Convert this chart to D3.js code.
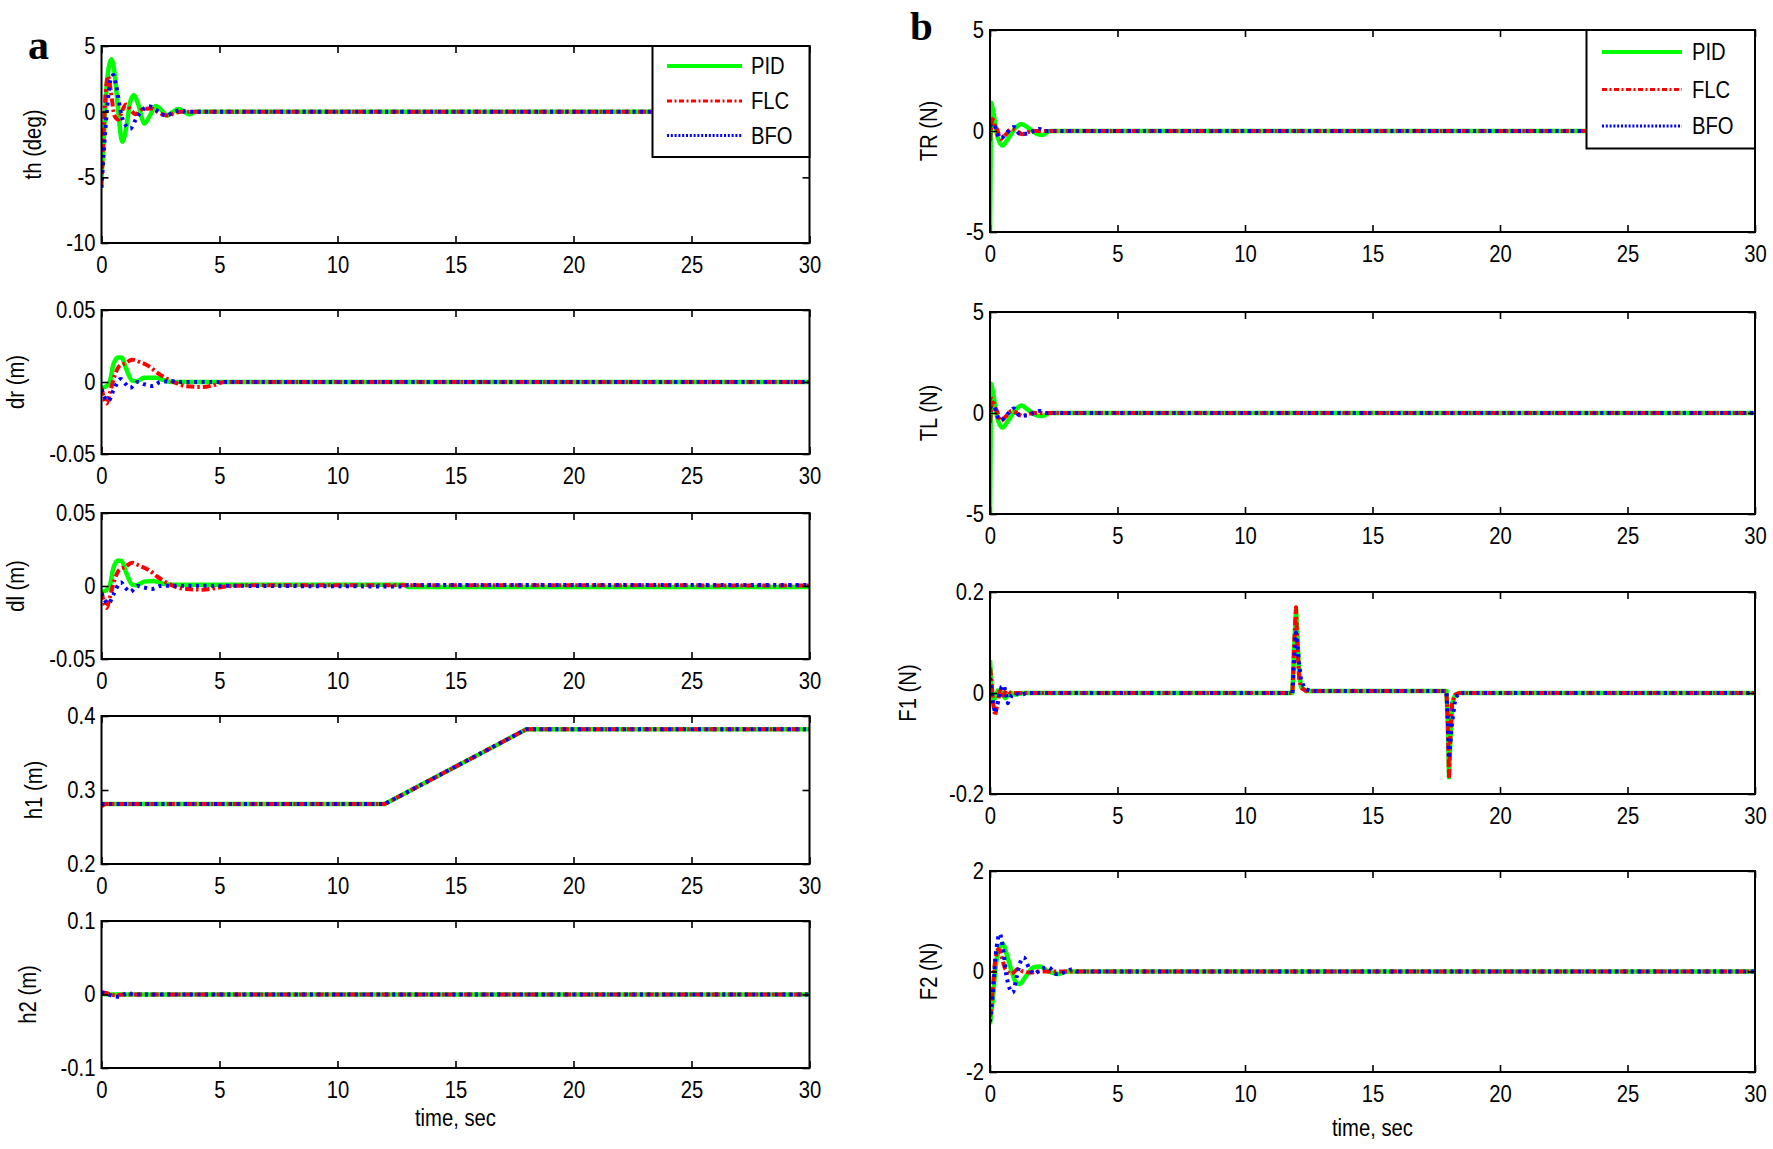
<!DOCTYPE html>
<html><head><meta charset="utf-8">
<script src="https://cdn.jsdelivr.net/npm/d3@7"></script>
<style>
html,body{margin:0;padding:0;background:#fff;}
svg{display:block;}
</style></head><body>
<svg id="chart" width="1773" height="1149"></svg>
<script>
// ---------------- DATA ----------------
const seriesNames = ['PID', 'FLC', 'BFO'];
const timeTicks = [0, 5, 10, 15, 20, 25, 30];
const timeTickLabels = ['0', '5', '10', '15', '20', '25', '30'];

const thTicks = [-10, -5, 0, 5];          const thTickLabels = ['-10', '-5', '0', '5'];
const dTicks = [-0.05, 0, 0.05];          const dTickLabels = ['-0.05', '0', '0.05'];
const h1Ticks = [0.2, 0.3, 0.4];          const h1TickLabels = ['0.2', '0.3', '0.4'];
const h2Ticks = [-0.1, 0, 0.1];           const h2TickLabels = ['-0.1', '0', '0.1'];
const tqTicks = [-5, 0, 5];               const tqTickLabels = ['-5', '0', '5'];
const f1Ticks = [-0.2, 0, 0.2];           const f1TickLabels = ['-0.2', '0', '0.2'];
const f2Ticks = [-2, 0, 2];               const f2TickLabels = ['-2', '0', '2'];

// th (deg)
const thPID = [[0,-5],[0.1,-2],[0.2,1.5],[0.3,3.3],[0.42,4.0],[0.55,3.0],[0.7,0.2],[0.88,-2.3],[1.05,-1.2],[1.2,0.6],[1.37,1.27],[1.55,0.6],[1.82,-0.9],[2.05,-0.3],[2.3,0.43],[2.55,0.1],[2.77,-0.3],[3.0,-0.05],[3.26,0.2],[3.5,0],[3.73,-0.2],[4.0,0],[30,0]];
const thFLC = [[0,-5.6],[0.08,-2],[0.18,1.5],[0.28,2.7],[0.4,1.5],[0.55,-0.3],[0.71,-0.6],[0.88,0.1],[1.04,0.55],[1.25,0.1],[1.45,-0.2],[1.75,0.2],[2.1,0.25],[2.45,-0.1],[2.8,-0.3],[3.1,-0.1],[3.4,0],[30,0]];
const thBFO = [[0,-5.8],[0.1,-3],[0.25,0.5],[0.38,2.4],[0.5,2.8],[0.62,2.0],[0.85,-0.3],[1.05,-1.1],[1.22,-1.3],[1.45,-0.6],[1.75,0.15],[2.05,0.4],[2.3,0.15],[2.55,-0.2],[2.75,-0.3],[3.05,-0.05],[3.3,0.1],[3.6,0],[30,0]];

// dr (m)
const drPID = [[0,-0.004],[0.2,-0.003],[0.35,0.0],[0.5,0.012],[0.7,0.017],[0.85,0.017],[1.05,0.009],[1.3,0.001],[1.5,0.0005],[1.8,0.003],[2.3,0.003],[2.6,0.0015],[3.0,0],[30,0]];
const drFLC = [[0,-0.004],[0.12,-0.012],[0.22,-0.015],[0.35,-0.008],[0.55,0.004],[0.75,0.011],[1.0,0.013],[1.3,0.0155],[1.6,0.014],[2.0,0.011],[2.4,0.006],[2.8,0.002],[3.2,-0.001],[3.6,-0.003],[4.3,-0.0035],[4.8,-0.002],[5.2,0],[30,0]];
const drBFO = [[0,-0.005],[0.15,-0.011],[0.3,-0.013],[0.5,-0.006],[0.82,0.002],[1.0,-0.001],[1.22,-0.004],[1.53,0],[1.8,-0.0015],[2.15,-0.0028],[2.5,0],[3.0,0.0005],[3.4,0],[30,0]];

// dl (m)
const dlPID = [[0,-0.004],[0.2,-0.003],[0.35,0.0],[0.5,0.012],[0.7,0.0175],[0.85,0.017],[1.05,0.009],[1.3,0.001],[1.5,0.0005],[1.8,0.003],[2.2,0.0035],[2.6,0.0015],[3.0,0.0008],[12.8,0.0008],[13.0,-0.0006],[30,-0.0006]];
const dlFLC = [[0,-0.004],[0.12,-0.012],[0.22,-0.015],[0.35,-0.008],[0.55,0.004],[0.75,0.011],[1.0,0.013],[1.3,0.016],[1.6,0.014],[2.0,0.011],[2.4,0.006],[2.8,0.002],[3.2,-0.001],[3.6,-0.002],[4.3,-0.0025],[4.8,-0.0015],[5.5,0],[6.5,0.0005],[30,0.0004]];
const dlBFO = [[0,-0.005],[0.15,-0.01],[0.3,-0.012],[0.5,-0.006],[0.82,0.0025],[1.0,-0.001],[1.22,-0.004],[1.53,0],[1.8,-0.001],[2.15,-0.002],[2.5,0],[3.0,0.0002],[12.8,-0.0003],[13.0,0.0007],[30,0.0007]];

// h1 (m)
const h1PID = [[0,0.281],[12.0,0.281],[18.0,0.382],[30,0.382]];
const h1FLC = [[0,0.278],[0.15,0.281],[12.0,0.281],[18.0,0.382],[30,0.382]];
const h1BFO = [[0,0.281],[12.0,0.281],[18.0,0.382],[30,0.382]];

// h2 (m)
const h2PID = [[0,0.001],[0.3,0],[30,0]];
const h2FLC = [[0,0.003],[0.2,0.002],[0.4,0],[0.6,-0.001],[0.9,0],[30,0]];
const h2BFO = [[0,0.003],[0.2,0.001],[0.5,-0.002],[0.72,-0.003],[0.95,0],[1.15,0.0023],[1.35,0],[30,0]];

// TR (N)
const trPID = [[0,-5],[0.02,-2],[0.04,1.4],[0.12,1.0],[0.3,-0.3],[0.49,-0.72],[0.7,-0.4],[1.0,0.15],[1.23,0.35],[1.5,0.15],[1.8,-0.12],[2.05,-0.2],[2.35,0],[30,0]];
const trFLC = [[0,-0.5],[0.05,0.2],[0.09,0.6],[0.18,0.3],[0.27,0.1],[0.42,-0.4],[0.6,-0.2],[0.85,0.1],[1.05,0.0],[1.27,-0.16],[1.5,-0.05],[1.8,0],[30,0]];
const trBFO = [[0,0.2],[0.08,0.35],[0.16,0.3],[0.38,-0.35],[0.5,-0.3],[0.65,-0.1],[0.94,0.2],[1.16,-0.13],[1.45,-0.13],[1.7,0],[1.94,0.1],[2.2,0],[30,0]];

// TL (N)
const tlPID = [[0,-5],[0.02,-2],[0.04,1.45],[0.12,1.0],[0.3,-0.3],[0.49,-0.72],[0.7,-0.4],[1.0,0.15],[1.23,0.37],[1.5,0.15],[1.8,-0.1],[2.05,-0.15],[2.35,0],[30,0]];
const tlFLC = [[0,-0.5],[0.05,0.2],[0.09,0.7],[0.18,0.3],[0.27,0.1],[0.42,-0.4],[0.6,-0.2],[0.85,0.1],[1.05,0.0],[1.27,-0.16],[1.5,-0.05],[1.8,0],[30,0]];
const tlBFO = [[0,0.2],[0.08,0.35],[0.16,0.3],[0.38,-0.35],[0.5,-0.3],[0.65,-0.1],[0.94,0.22],[1.16,-0.12],[1.45,-0.12],[1.7,0],[1.94,0.1],[2.2,0],[30,0]];

// F1 (N)
const f1PID = [[0,0.065],[0.05,0.02],[0.1,-0.015],[0.2,-0.01],[0.3,0.005],[0.45,0.0],[0.6,-0.01],[0.8,0.0],[1.0,-0.003],[1.3,0],[11.86,0],[11.93,0.09],[12.0,0.165],[12.05,0.12],[12.12,0.04],[12.2,0.012],[12.4,0.004],[17.9,0.004],[17.95,-0.05],[18.0,-0.167],[18.05,-0.1],[18.12,-0.02],[18.25,-0.003],[18.4,0],[30,0]];
const f1FLC = [[0,0.05],[0.05,0.03],[0.12,-0.02],[0.2,-0.045],[0.3,-0.02],[0.4,0.01],[0.5,-0.005],[0.65,0.005],[0.8,0],[11.86,0],[11.93,0.1],[12.0,0.17],[12.05,0.1],[12.12,0.03],[12.2,0.01],[12.4,0.004],[17.9,0.004],[17.95,-0.06],[18.0,-0.165],[18.05,-0.09],[18.12,-0.02],[18.25,-0.003],[18.4,0],[30,0]];
const f1BFO = [[0,0.03],[0.05,0.01],[0.12,-0.02],[0.2,-0.04],[0.3,-0.02],[0.45,0.012],[0.55,0.015],[0.7,-0.02],[0.85,-0.005],[1.0,0.0],[1.2,-0.005],[1.4,0],[11.86,0],[11.93,0.07],[12.0,0.12],[12.05,0.1],[12.12,0.06],[12.2,0.025],[12.35,0.008],[12.6,0.004],[17.9,0.004],[17.95,-0.05],[18.0,-0.13],[18.05,-0.1],[18.12,-0.06],[18.25,-0.01],[18.4,0],[30,0]];

// F2 (N)
const f2PID = [[0,-1.05],[0.1,-0.6],[0.25,0.2],[0.4,0.5],[0.5,0.55],[0.65,0.35],[0.85,0.0],[1.0,-0.2],[1.16,-0.25],[1.4,-0.1],[1.7,0.08],[1.95,0.1],[2.3,0.0],[2.7,-0.05],[3.0,0],[30,0]];
const f2FLC = [[0,-0.9],[0.1,-0.4],[0.2,0.2],[0.34,0.45],[0.45,0.3],[0.6,0.05],[0.83,-0.05],[1.1,0.05],[1.3,0.0],[1.6,-0.02],[2.0,0],[30,0]];
const f2BFO = [[0,-1.0],[0.1,-0.5],[0.22,0.3],[0.38,0.75],[0.5,0.5],[0.65,-0.1],[0.89,-0.42],[1.05,-0.1],[1.2,0.2],[1.32,0.28],[1.55,0.05],[1.72,-0.05],[2.0,0.05],[2.3,0.08],[2.6,-0.05],[3.0,0],[3.25,0.05],[3.4,0],[30,0]];

// ---------------- LAYOUT / STYLE ----------------
const FONT = '"Liberation Sans", Arial, Helvetica, sans-serif';
const FS = 23;
const SQUEEZE = 0.88;
const seriesStyle = {
  PID: {color: '#00ff00', width: 4.5, dash: null},
  FLC: {color: '#ff0000', width: 4,   dash: '8,3,2.5,3'},
  BFO: {color: '#0000ff', width: 4,   dash: '3,4.5'}
};
const legendStyle = {
  PID: {width: 4, dash: null},
  FLC: {width: 3.2, dash: '5,2.5,2,2.5'},
  BFO: {width: 3.2, dash: '2,1.8'}
};
const AX = [101.5, 809.5], BX = [990, 1755];
const panels = [
  {label: 'th (deg)', data: [thPID, thFLC, thBFO], ticks: thTicks, tl: thTickLabels, xr: AX, yr: [46, 243], gap: 33,
   legend: {box: [652.5, 46, 809.5, 157], rows: [66, 101, 135.5], lineX: [667, 742], textX: 751}},
  {label: 'dr (m)', data: [drPID, drFLC, drBFO], ticks: dTicks, tl: dTickLabels, xr: AX, yr: [310, 454], gap: 33},
  {label: 'dl (m)', data: [dlPID, dlFLC, dlBFO], ticks: dTicks, tl: dTickLabels, xr: AX, yr: [513, 659], gap: 33},
  {label: 'h1 (m)', data: [h1PID, h1FLC, h1BFO], ticks: h1Ticks, tl: h1TickLabels, xr: AX, yr: [716, 864], gap: 33, linear: true},
  {label: 'h2 (m)', data: [h2PID, h2FLC, h2BFO], ticks: h2Ticks, tl: h2TickLabels, xr: AX, yr: [921, 1068], gap: 33},
  {label: 'TR (N)', data: [trPID, trFLC, trBFO], ticks: tqTicks, tl: tqTickLabels, xr: BX, yr: [30, 232], gap: 37,
   legend: {box: [1586.5, 30, 1755, 148.5], rows: [52, 89.5, 126], lineX: [1602, 1682], textX: 1692}},
  {label: 'TL (N)', data: [tlPID, tlFLC, tlBFO], ticks: tqTicks, tl: tqTickLabels, xr: BX, yr: [312, 514], gap: 37},
  {label: 'F1 (N)', data: [f1PID, f1FLC, f1BFO], ticks: f1Ticks, tl: f1TickLabels, xr: BX, yr: [592, 794], gap: 41, linear: true},
  {label: 'F2 (N)', data: [f2PID, f2FLC, f2BFO], ticks: f2Ticks, tl: f2TickLabels, xr: BX, yr: [871, 1072], gap: 37}
];

// ---------------- DRAW ----------------
const svg = d3.select('#chart');
svg.append('rect').attr('width', 1773).attr('height', 1149).attr('fill', '#fff');
const defs = svg.append('defs');

function condense(sel) {
  sel.each(function () {
    const L = this.getComputedTextLength();
    if (L > 0) d3.select(this).attr('textLength', L * SQUEEZE).attr('lengthAdjust', 'spacingAndGlyphs');
  });
}

function styleAxis(g) {
  g.select('.domain').remove();
  g.attr('font-family', FONT).attr('font-size', FS);
  g.selectAll('.tick line').attr('stroke', '#000').attr('stroke-width', 1.6);
  g.selectAll('.tick text').attr('fill', '#000').call(condense);
}

panels.forEach((p, i) => {
  const [x0, x1] = p.xr, [y0, y1] = p.yr;
  const x = d3.scaleLinear().domain([0, 30]).range([x0, x1]);
  const y = d3.scaleLinear().domain(d3.extent(p.ticks)).range([y1, y0]);
  const g = svg.append('g');

  defs.append('clipPath').attr('id', 'clip' + i).append('rect')
    .attr('x', x0).attr('y', y0).attr('width', x1 - x0).attr('height', y1 - y0);

  const line = d3.line().x(d => x(d[0])).y(d => y(d[1]))
    .curve(p.linear ? d3.curveLinear : d3.curveMonotoneX);

  const plot = g.append('g').attr('clip-path', `url(#clip${i})`);
  p.data.forEach((s, k) => {
    const st = seriesStyle[seriesNames[k]];
    plot.append('path').attr('d', line(s)).attr('fill', 'none')
      .attr('stroke', st.color).attr('stroke-width', st.width)
      .attr('stroke-dasharray', st.dash).attr('stroke-linejoin', 'round');
  });

  // axes: inward ticks on all four sides
  const fmtX = (d, j) => timeTickLabels[j];
  g.append('g').attr('transform', `translate(0,${y1})`)
    .call(d3.axisBottom(x).tickValues(timeTicks).tickFormat(fmtX).tickSizeInner(-7).tickSizeOuter(0).tickPadding(14))
    .call(styleAxis);
  g.append('g').attr('transform', `translate(0,${y0})`)
    .call(d3.axisTop(x).tickValues(timeTicks).tickFormat(() => '').tickSizeInner(-7).tickSizeOuter(0))
    .call(styleAxis);
  const yAxisG = g.append('g').attr('transform', `translate(${x0},0)`)
    .call(d3.axisLeft(y).tickValues(p.ticks).tickFormat((d, j) => p.tl[j]).tickSizeInner(-7).tickSizeOuter(0).tickPadding(6))
    .call(styleAxis);
  g.append('g').attr('transform', `translate(${x1},0)`)
    .call(d3.axisRight(y).tickValues(p.ticks).tickFormat(() => '').tickSizeInner(-7).tickSizeOuter(0))
    .call(styleAxis);

  // box
  g.append('rect').attr('x', x0).attr('y', y0).attr('width', x1 - x0).attr('height', y1 - y0)
    .attr('fill', 'none').attr('stroke', '#000').attr('stroke-width', 2);

  // y label, placed left of the widest tick label
  const bb = yAxisG.node().getBBox();
  const labelX = x0 + bb.x - p.gap;
  g.append('text').attr('transform', `translate(${labelX},${(y0 + y1) / 2}) rotate(-90)`)
    .attr('text-anchor', 'middle').attr('dy', '0.35em')
    .attr('font-family', FONT).attr('font-size', FS).text(p.label).call(condense);

  // legend
  if (p.legend) {
    const L = p.legend;
    const lg = g.append('g');
    lg.append('rect').attr('x', L.box[0]).attr('y', L.box[1])
      .attr('width', L.box[2] - L.box[0]).attr('height', L.box[3] - L.box[1])
      .attr('fill', '#fff').attr('stroke', '#000').attr('stroke-width', 2);
    seriesNames.forEach((n, k) => {
      const ls = legendStyle[n];
      lg.append('line').attr('x1', L.lineX[0]).attr('x2', L.lineX[1])
        .attr('y1', L.rows[k]).attr('y2', L.rows[k])
        .attr('stroke', seriesStyle[n].color).attr('stroke-width', ls.width)
        .attr('stroke-dasharray', ls.dash);
      lg.append('text').attr('x', L.textX).attr('y', L.rows[k]).attr('dy', '0.36em')
        .attr('font-family', FONT).attr('font-size', FS).text(n).call(condense);
    });
  }
});

// x-axis titles
svg.append('text').attr('x', 455.5).attr('y', 1126).attr('text-anchor', 'middle')
  .attr('font-family', FONT).attr('font-size', FS).text('time, sec').call(condense);
svg.append('text').attr('x', 1372.5).attr('y', 1136).attr('text-anchor', 'middle')
  .attr('font-family', FONT).attr('font-size', FS).text('time, sec').call(condense);

// panel letters
svg.append('text').attr('x', 28).attr('y', 58.5).attr('font-family', '"Liberation Serif", "Times New Roman", serif')
  .attr('font-weight', 'bold').attr('font-size', 42).text('a');
svg.append('text').attr('x', 910).attr('y', 39.5).attr('font-family', '"Liberation Serif", "Times New Roman", serif')
  .attr('font-weight', 'bold').attr('font-size', 41).text('b');
</script></body></html>
